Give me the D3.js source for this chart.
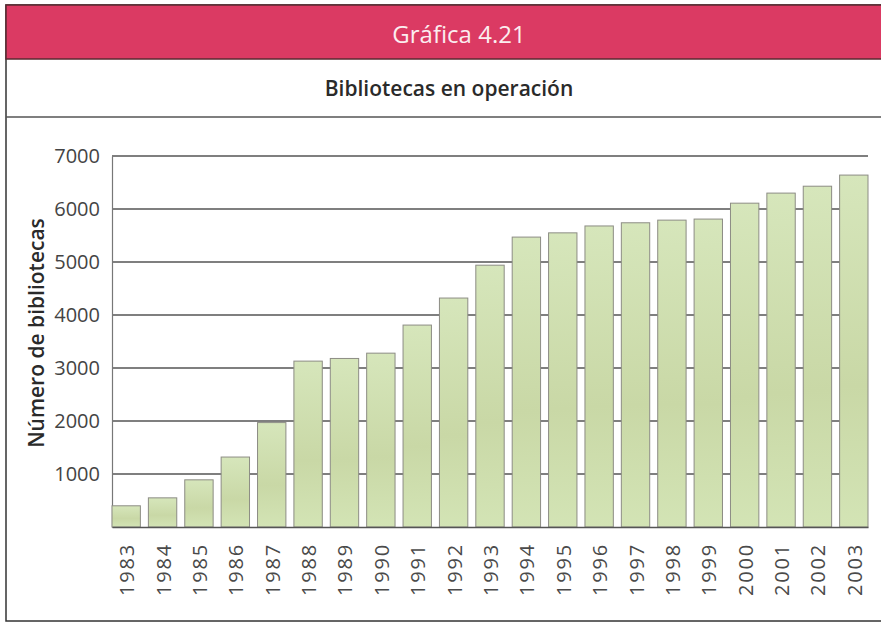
<!DOCTYPE html>
<html>
<head>
<meta charset="utf-8">
<script src="https://cdn.jsdelivr.net/npm/d3@7"></script>
<style>
  body { margin: 0; background: #fff; }
  text { font-family: "Open Sans", "Noto Sans", sans-serif; }
</style>
</head>
<body>
<script>
var width = 881;
var height = 624;
var margin = {top: 156, left: 112, right: 13, bottom: 97};

var years = ["1983","1984","1985","1986","1987","1988","1989","1990","1991","1992","1993",
  "1994","1995","1996","1997","1998","1999","2000","2001","2002","2003"];
var libraries = [400, 550, 890, 1320, 1970, 3130, 3180, 3280, 3810, 4320, 4940,
  5470, 5550, 5680, 5740, 5790, 5810, 6110, 6300, 6430, 6640];
var yTicks = [1000, 2000, 3000, 4000, 5000, 6000, 7000];

var svg = d3.select("body")
  .append("svg")
  .attr("width", width)
  .attr("height", height);

// bar gradient
var grad = svg.append("defs").append("linearGradient")
  .attr("id", "barfill")
  .attr("x1", 0).attr("y1", 0).attr("x2", 0).attr("y2", 1);
grad.append("stop").attr("offset", "0%").attr("stop-color", "#d6e6bb");
grad.append("stop").attr("offset", "60%").attr("stop-color", "#c9d8a6");
grad.append("stop").attr("offset", "100%").attr("stop-color", "#d3e4b5");

// frame + header
svg.append("rect")
  .attr("x", 6).attr("y", 5).attr("width", width + 10).attr("height", 616)
  .attr("fill", "none").attr("stroke", "#333").attr("stroke-width", 1.5);
svg.append("rect")
  .attr("x", 6).attr("y", 5).attr("width", width).attr("height", 54)
  .attr("fill", "#db3a63").attr("stroke", "#5a2a30").attr("stroke-width", 1.5);
svg.append("line")
  .attr("x1", 6).attr("x2", width).attr("y1", 117).attr("y2", 117)
  .attr("stroke", "#555").attr("stroke-width", 1.5);

svg.append("text")
  .attr("x", 459).attr("y", 43)
  .attr("text-anchor", "middle")
  .attr("fill", "#fbeef0")
  .style("font-size", "24px")
  .text("Gráfica 4.21");

svg.append("text")
  .attr("x", 449).attr("y", 96)
  .attr("text-anchor", "middle")
  .attr("fill", "#2a2a2a")
  .style("font-size", "21px")
  .style("font-weight", "600")
  .text("Bibliotecas en operación");

var xScale = d3.scaleBand()
  .domain(years)
  .range([margin.left, width - margin.right])
  .paddingInner(0.22)
  .paddingOuter(0);

var yScale = d3.scaleLinear()
  .domain([0, 7000])
  .range([height - margin.bottom, margin.top]);

// gridlines
svg.append("g")
  .selectAll("line")
  .data(yTicks)
  .enter()
  .append("line")
    .attr("x1", margin.left)
    .attr("x2", width - margin.right)
    .attr("y1", function(d) { return yScale(d); })
    .attr("y2", function(d) { return yScale(d); })
    .attr("stroke", "#555")
    .attr("stroke-width", 1.5);

// y axis
var yAxis = svg.append("g")
  .attr("transform", `translate(${margin.left},0)`)
  .call(d3.axisLeft(yScale).tickValues(yTicks).tickFormat(d3.format("d")).tickSize(0).tickPadding(12));
yAxis.select(".domain").attr("stroke", "#777").attr("stroke-width", 1.2);
yAxis.selectAll("text")
  .attr("fill", "#444")
  .style("font-size", "20px")
  .style("font-family", "'Open Sans', sans-serif");

// bars
svg.selectAll("rect.bar")
  .data(libraries)
  .enter()
  .append("rect")
    .attr("class", "bar")
    .attr("x", function(d, i) { return xScale(years[i]); })
    .attr("y", function(d) { return yScale(d); })
    .attr("width", xScale.bandwidth())
    .attr("height", function(d) { return yScale(0) - yScale(d); })
    .attr("fill", "url(#barfill)")
    .attr("stroke", "#8c8c84")
    .attr("stroke-width", 1);

// x axis
var xAxis = svg.append("g")
  .attr("transform", `translate(0,${height - margin.bottom})`)
  .call(d3.axisBottom(xScale).tickSize(0).tickPadding(0));
xAxis.select(".domain").attr("stroke", "#555").attr("stroke-width", 1.5);
xAxis.selectAll("text")
  .attr("transform", "rotate(-90)")
  .attr("text-anchor", "end")
  .attr("x", -16)
  .attr("y", 1)
  .attr("dy", "0.35em")
  .attr("fill", "#4a4a4a")
  .style("font-size", "20px")
  .style("letter-spacing", "1.8px")
  .style("font-family", "'Open Sans', sans-serif");

// y axis title
svg.append("text")
  .attr("transform", "translate(44,333) rotate(-90)")
  .attr("text-anchor", "middle")
  .attr("fill", "#2a2a2a")
  .style("font-size", "21px")
  .style("font-weight", "600")
  .text("Número de bibliotecas");
</script>
</body>
</html>
